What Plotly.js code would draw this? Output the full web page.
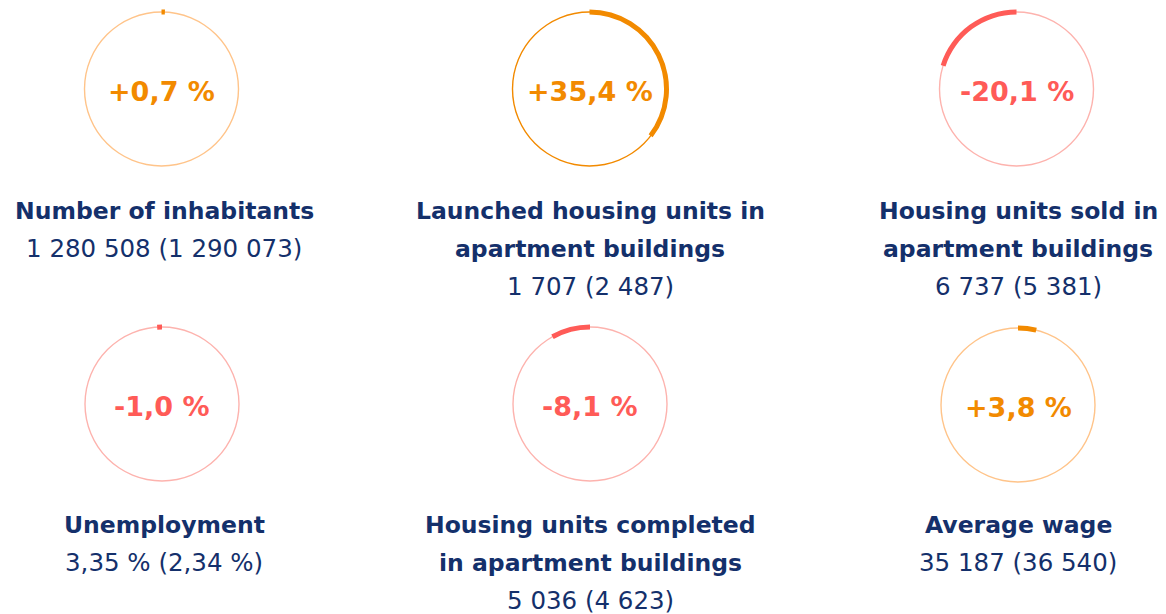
<!DOCTYPE html>
<html>
<head>
<meta charset="utf-8">
<script src="https://cdn.plot.ly/plotly-3.0.1.min.js"></script>
<style>html,body{margin:0;padding:0;background:#fff;}#chart{width:1166px;height:614px;}</style>
</head>
<body>
<div id="chart"></div>
<script>
// ---- data ----
var changePct = [0.7, 35.4, -20.1, -1.0, -8.1, 3.8];
var changeLabels = ["+0,7 %", "+35,4 %", "-20,1 %", "-1,0 %", "-8,1 %", "+3,8 %"];
var titleLines = [
  ["Number of inhabitants"],
  ["Launched housing units in", "apartment buildings"],
  ["Housing units sold in", "apartment buildings"],
  ["Unemployment"],
  ["Housing units completed", "in apartment buildings"],
  ["Average wage"]
];
var valueLabels = ["1 280 508 (1 290 073)", "1 707 (2 487)", "6 737 (5 381)", "3,35 % (2,34 %)", "5 036 (4 623)", "35 187 (36 540)"];

// ---- style / layout ----
var W = 1166, H = 614;
var centers = [[161.5, 89], [589.5, 89], [1016.5, 89], [162, 404], [590, 404], [1018, 405]];
var textX = [164, 590, 1018, 164, 590, 1018];
var titleY = [211, 211, 211, 525, 525, 525];
var lineGap = 37.5;
var ORANGE = "#F28A00", ORANGE_LIGHT = "#FFC48A";
var RED = "#FF5B57", RED_LIGHT = "#FDB3AE";
var NAVY = "#14306B";
var FONT = "'DejaVu Sans', sans-serif";
var HALF = 82;
var ringColors = [ORANGE_LIGHT, ORANGE, RED_LIGHT, RED_LIGHT, RED_LIGHT, ORANGE_LIGHT];

var traces = [], annotations = [], layout = {
  width: W, height: H,
  margin: {l: 0, r: 0, t: 0, b: 0},
  paper_bgcolor: "#fff", plot_bgcolor: "#fff",
  showlegend: false,
  annotations: annotations
};

changePct.forEach(function (v, i) {
  var key = i === 0 ? "polar" : "polar" + (i + 1);
  var cx = centers[i][0], cy = centers[i][1];
  layout[key] = {
    domain: {x: [(cx - HALF) / W, (cx + HALF) / W], y: [1 - (cy + HALF) / H, 1 - (cy - HALF) / H]},
    bgcolor: "rgba(0,0,0,0)",
    radialaxis: {range: [0, HALF], visible: false, showgrid: false, showline: false, showticklabels: false},
    angularaxis: {rotation: 90, direction: "clockwise", visible: false, showgrid: false, showline: false, showticklabels: false},
    gridshape: "circular"
  };
  var pos = v >= 0;
  var col = pos ? ORANGE : RED;
  // thin ring
  traces.push({
    type: "barpolar", subplot: key,
    r: [1.4], base: [76.3], theta: [180], width: [360],
    marker: {color: ringColors[i], line: {width: 0}},
    hoverinfo: "skip"
  });
  // arc for the change
  var deg = Math.abs(v) * 3.6;
  traces.push({
    type: "barpolar", subplot: key,
    r: [5], base: [74.5], theta: [pos ? deg / 2 : -deg / 2], width: [deg],
    marker: {color: col, line: {width: 0}},
    hoverinfo: "skip"
  });
  annotations.push({
    xref: "paper", yref: "paper", x: cx / W, y: 1 - (cy + 2) / H,
    xanchor: "center", yanchor: "middle", showarrow: false,
    text: "<b>" + changeLabels[i] + "</b>",
    font: {family: FONT, size: 27, color: col}
  });
  var lines = titleLines[i];
  lines.forEach(function (t, k) {
    annotations.push({
      xref: "paper", yref: "paper", x: textX[i] / W, y: 1 - (titleY[i] + k * lineGap) / H,
      xanchor: "center", yanchor: "middle", showarrow: false,
      text: "<b>" + t + "</b>",
      font: {family: FONT, size: 23.5, color: NAVY}
    });
  });
  annotations.push({
    xref: "paper", yref: "paper", x: textX[i] / W, y: 1 - (titleY[i] + lines.length * lineGap) / H,
    xanchor: "center", yanchor: "middle", showarrow: false,
    text: valueLabels[i],
    font: {family: FONT, size: 24.5, color: NAVY}
  });
});

Plotly.newPlot("chart", traces, layout, {displayModeBar: false, staticPlot: true});
</script>
</body>
</html>
